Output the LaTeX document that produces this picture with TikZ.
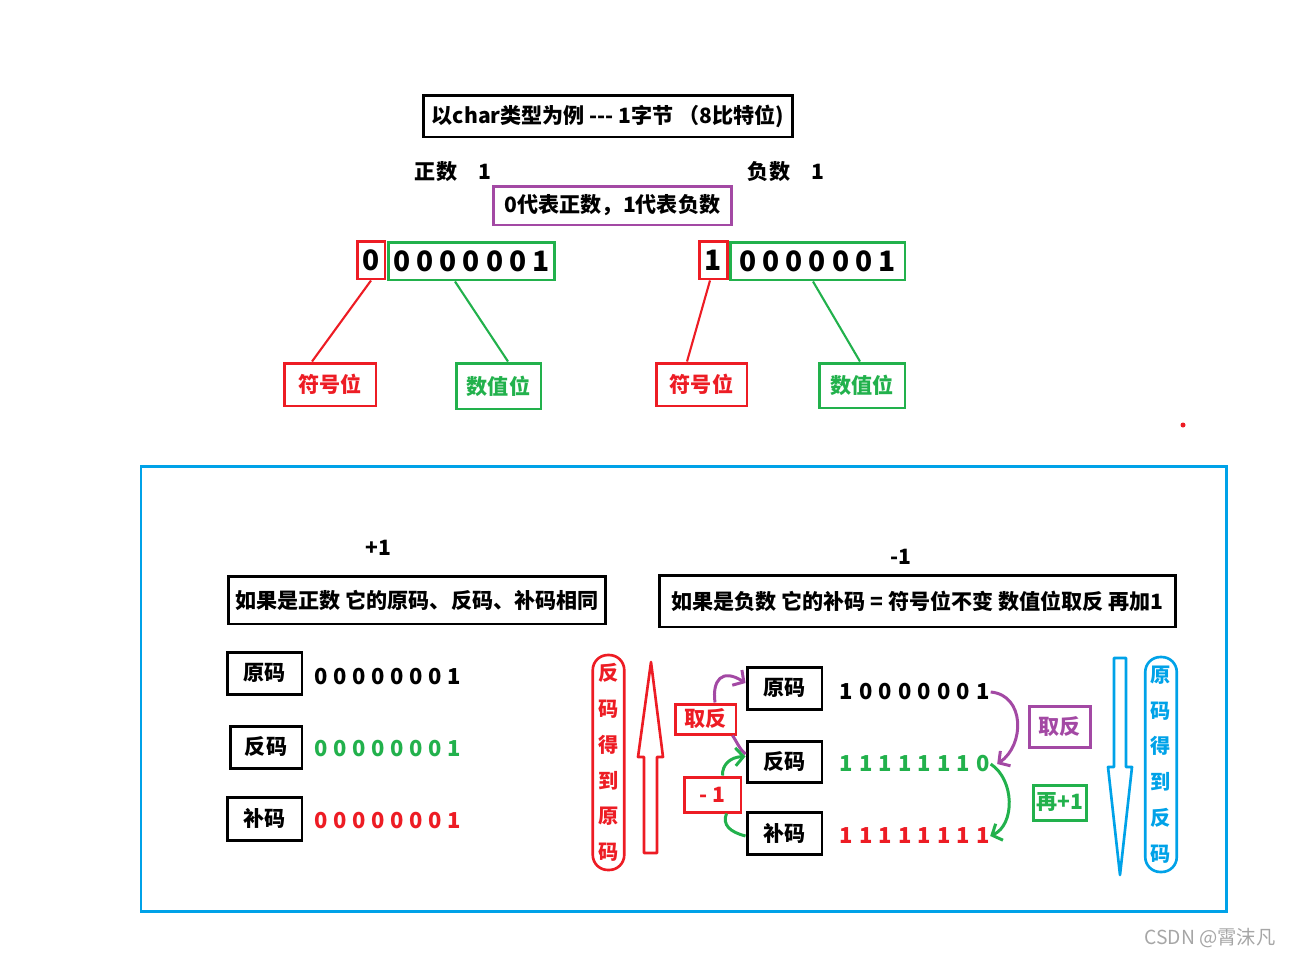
\documentclass[tikz,border=0pt]{standalone}
\usepackage{fontspec}
\setmainfont{Noto Sans CJK SC}
\usetikzlibrary{arrows.meta}
\definecolor{pred}{HTML}{ED1C24}
\definecolor{pgreen}{HTML}{22B14C}
\definecolor{ppurple}{HTML}{A349A4}
\definecolor{pblue}{HTML}{00A2E8}
\newcommand\bitrow[2]{\foreach \b in {#2}{\makebox[#1]{\b}}}
\tikzset{
  lbl/.style={font=\bfseries\fontsize{12}{14}\selectfont, inner sep=0pt},
  box/.style={lbl, draw, line width=1.7pt},
  bitbox/.style={box, minimum height=0.76cm, font=\bfseries\fontsize{16}{18}\selectfont},
  bits/.style={font=\bfseries\fontsize{12.5}{14}\selectfont, inner sep=0pt, anchor=west},
  pill/.style={lbl, draw, line width=1.5pt, rounded corners=0.3cm, minimum width=0.63cm,
    minimum height=4.3cm, align=center, font=\bfseries\fontsize{11.5}{20.4}\selectfont},
  arr/.style={line width=1.7pt, -{Straight Barb[length=0.16cm,width=0.36cm]}},
  thin/.style={line width=1.2pt},
  hollow/.style={line width=1.5pt, line join=round}
}
\begin{document}
\begin{tikzpicture}[x=0.02cm, y=-0.02cm]
\useasboundingbox (0,0) rectangle (1291,957);
% top: one byte of char
\node[box, minimum width=7.4cm, minimum height=0.84cm] (title) at (608,116) {以char类型为例 -{}-{}- 1字节 （8比特位)};
\node[lbl] (pos) at (453,172) {正数\quad 1};
\node[lbl] (neg) at (786,172) {负数\quad 1};
\node[box, draw=ppurple, minimum width=4.78cm, minimum height=0.78cm] (note) at (612.5,205.5) {0代表正数，1代表负数};

\node[bitbox, draw=pred, minimum width=0.56cm] (sign0) at (371,260) {0};
\node[bitbox, draw=pgreen, minimum width=3.34cm] (val0) at (471.5,261) {\bitrow{0.465cm}{0,0,0,0,0,0,1}};
\node[bitbox, draw=pred, minimum width=0.56cm] (sign1) at (713,260) {1};
\node[bitbox, draw=pgreen, minimum width=3.5cm] (val1) at (817.5,261) {\bitrow{0.465cm}{0,0,0,0,0,0,1}};

\node[box, draw=pred, text=pred, minimum width=1.84cm, minimum height=0.86cm] (slab0) at (330,384.5) {符号位};
\node[box, draw=pgreen, text=pgreen, minimum width=1.7cm, minimum height=0.92cm] (vlab0) at (498.5,386) {数值位};
\node[box, draw=pred, text=pred, minimum width=1.82cm, minimum height=0.86cm] (slab1) at (701.5,384.5) {符号位};
\node[box, draw=pgreen, text=pgreen, minimum width=1.72cm, minimum height=0.9cm] (vlab1) at (862,385.5) {数值位};

\draw[pred, thin] (sign0.south) -- ([xshift=-0.36cm]slab0.north);
\draw[pgreen, thin] ([xshift=-0.33cm]val0.south) -- ([xshift=0.19cm]vlab0.north);
\draw[pred, thin] ([xshift=-0.06cm]sign1.south) -- ([xshift=-0.29cm]slab1.north);
\draw[pgreen, thin] ([xshift=-0.09cm]val1.south) -- ([xshift=-0.04cm]vlab1.north);

\fill[pred] (1183,425) circle (0.05cm);

% bottom: the three codes
\draw[pblue, line width=1.7pt] (141,466) rectangle (1226,911);

\node[lbl] (plus) at (378,548) {+1};
\node[lbl] (minus) at (901,557) {-1};
\node[box, minimum width=7.56cm, minimum height=0.96cm] (rulepos) at (417,600) {如果是正数 它的原码、反码、补码相同};
\node[box, minimum width=10.34cm, minimum height=1.04cm] (ruleneg) at (917.5,601) {如果是负数 它的补码 = 符号位不变 数值位取反 再加1};

\node[box, minimum width=1.5cm, minimum height=0.84cm] (yp) at (264.5,673) {原码};
\node[box, minimum width=1.44cm, minimum height=0.84cm] (fp) at (266,747) {反码};
\node[box, minimum width=1.5cm, minimum height=0.86cm] (bp) at (264.5,818.5) {补码};
\node[bits] (dp1) at (311.5,677) {\bitrow{0.38cm}{0,0,0,0,0,0,0,1}};
\node[bits, text=pgreen] (dp2) at (311.5,749) {\bitrow{0.38cm}{0,0,0,0,0,0,0,1}};
\node[bits, text=pred] (dp3) at (311.5,821) {\bitrow{0.38cm}{0,0,0,0,0,0,0,1}};

\node[pill, draw=pred, text=pred] (back) at (608.5,762.5) {反\\码\\得\\到\\原\\码};
\draw[pred, hollow] (651,662) -- (663,757) -- (657,757) -- (657,853) -- (644,853) -- (644,757) -- (638,757) -- cycle;

\node[box, minimum width=1.5cm, minimum height=0.84cm] (ym) at (784.5,688) {原码};
\node[box, minimum width=1.5cm, minimum height=0.82cm] (fm) at (784.5,761.5) {反码};
\node[box, minimum width=1.5cm, minimum height=0.84cm] (bm) at (784.5,833) {补码};
\node[bits] (dm1) at (836.5,692) {\bitrow{0.39cm}{1,0,0,0,0,0,0,1}};
\node[bits, text=pgreen] (dm2) at (836.5,764) {\bitrow{0.39cm}{1,1,1,1,1,1,1,0}};
\node[bits, text=pred] (dm3) at (836.5,836) {\bitrow{0.39cm}{1,1,1,1,1,1,1,1}};

\node[box, draw=pred, text=pred, minimum width=1.22cm, minimum height=0.6cm] (inv) at (705.5,719) {取反};
\node[box, draw=pred, text=pred, minimum width=1.14cm, minimum height=0.7cm] (sub) at (712.5,794.5) {- 1};
\node[box, draw=ppurple, text=ppurple, minimum width=1.22cm, minimum height=0.82cm] (inv2) at (1059.5,726.5) {取反};
\node[box, draw=pgreen, text=pgreen, minimum width=1.06cm, minimum height=0.7cm] (add) at (1059.5,802.5) {再+1};

\draw[arr, ppurple] ([xshift=0.19cm]inv.north) .. controls (712,680) and (722,668) .. ([yshift=0.1cm]ym.west);
\draw[ppurple, line width=1.7pt] ([xshift=-0.1cm]inv.south east) .. controls (737,742) and (740,750) .. ([yshift=0.15cm]fm.west);
\draw[arr, pgreen] ([xshift=0.2cm]sub.north) .. controls (722,765) and (730,757) .. ([yshift=0.1cm]fm.west);
\draw[pgreen, line width=1.7pt] ([xshift=0.28cm]sub.south) .. controls (722,825) and (730,832) .. ([yshift=-0.06cm]bm.west);

\draw[arr, ppurple] ([xshift=-0.05cm]dm1.east) .. controls (1025,695) and (1025,745) .. ([xshift=0.08cm]dm2.east);
\draw[arr, pgreen] ([xshift=-0.05cm]dm2.east) .. controls (1015,780) and (1015,825) .. ([xshift=-0.06cm]dm3.east);

\draw[pblue, hollow] (1114,658) -- (1126,658) -- (1126,767) -- (1132,767) -- (1120,875) -- (1108,767) -- (1114,767) -- cycle;
\node[pill, draw=pblue, text=pblue] (fwd) at (1161,764.5) {原\\码\\得\\到\\反\\码};

\node[text=gray!70, font=\fontsize{11}{13}\selectfont, inner sep=0pt] (mark) at (1210,938) {CSDN @霄沫凡};
\end{tikzpicture}
\end{document}
